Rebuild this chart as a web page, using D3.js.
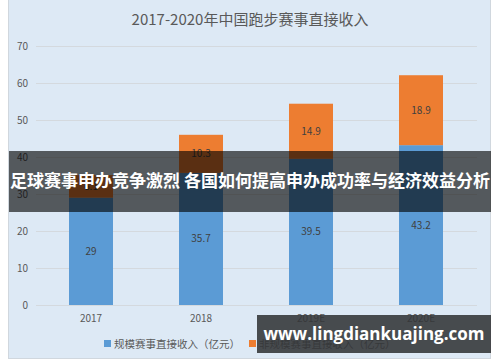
<!DOCTYPE html>
<html>
<head>
<meta charset="utf-8">
<script src="https://cdn.jsdelivr.net/npm/d3@7/dist/d3.min.js"></script>
<style>
  body { margin: 0; background: #fff; }
  svg { display: block; font-family: "Noto Sans CJK SC", "Noto Sans", sans-serif; }
</style>
</head>
<body>
<svg id="chart" width="500" height="362"></svg>
<script>
const years = ['2017', '2018', '2019E', '2020E'];
const scaleIncome = [29, 35.7, 39.5, 43.2];   // 规模赛事
const otherIncome = [6.1, 10.3, 14.9, 18.9];  // 非规模赛事
const yTicks = [0, 10, 20, 30, 40, 50, 60, 70];
const seriesNames = ['规模赛事直接收入（亿元）', '非规模赛事直接收入（亿元）'];
const seriesColors = ['#5b9bd5', '#ed7d31'];

const title = '2017-2020年中国跑步赛事直接收入';
const bannerText = '足球赛事申办竞争激烈 各国如何提高申办成功率与经济效益分析';
const siteText = 'www.lingdiankuajing.com';

var svg = d3.select('#chart');

// panel background
svg.append('rect')
  .attr('x', 8.5).attr('y', -1)
  .attr('width', 482).attr('height', 359.5)
  .attr('fill', '#dde9f5')
  .attr('stroke', '#d0d7de');

svg.append('text')
  .attr('x', 250).attr('y', 25)
  .attr('text-anchor', 'middle')
  .attr('font-size', 15)
  .attr('fill', '#595959')
  .text(title);

var x = d3.scaleBand().domain(years).range([36, 476]).paddingInner(0.6).paddingOuter(0.3);
var y = d3.scaleLinear().domain([0, 70]).range([305, 46]);

// grid + y labels
var grid = svg.append('g');
grid.selectAll('line')
  .data(yTicks)
  .enter()
  .append('line')
  .attr('x1', 36).attr('x2', 477)
  .attr('y1', d => Math.round(y(d)) + 0.5)
  .attr('y2', d => Math.round(y(d)) + 0.5)
  .attr('stroke', '#d4d9de');
grid.selectAll('text')
  .data(yTicks)
  .enter()
  .append('text')
  .attr('x', 28).attr('y', d => y(d))
  .attr('dy', '0.35em')
  .attr('text-anchor', 'end')
  .attr('font-size', 10)
  .attr('fill', '#595959')
  .text(d => d);

// x labels
svg.append('g').selectAll('text')
  .data(years)
  .enter()
  .append('text')
  .attr('x', d => x(d) + x.bandwidth() / 2)
  .attr('y', 322)
  .attr('text-anchor', 'middle')
  .attr('font-size', 10)
  .attr('fill', '#595959')
  .text(d => d);

// stacked bars
var stackData = years.map((yr, i) => ({ year: yr, a: scaleIncome[i], b: otherIncome[i] }));
var stack = d3.stack().keys(['a', 'b'])(stackData);

var layers = svg.append('g').selectAll('g')
  .data(stack)
  .enter()
  .append('g')
  .attr('fill', (d, i) => seriesColors[i]);

layers.selectAll('rect')
  .data(d => d)
  .enter()
  .append('rect')
  .attr('x', d => x(d.data.year))
  .attr('width', x.bandwidth())
  .attr('y', d => y(d[1]))
  .attr('height', d => y(d[0]) - y(d[1]));

layers.selectAll('text')
  .data(d => d)
  .enter()
  .append('text')
  .attr('x', d => x(d.data.year) + x.bandwidth() / 2)
  .attr('y', d => y((d[0] + d[1]) / 2))
  .attr('dy', '0.35em')
  .attr('text-anchor', 'middle')
  .attr('font-size', 10)
  .attr('fill', '#404040')
  .text(d => +(d[1] - d[0]).toFixed(1));

// legend
var legend = svg.append('g');
var legendX = [104, 249];
seriesNames.forEach(function (name, i) {
  legend.append('rect')
    .attr('x', legendX[i]).attr('y', 340)
    .attr('width', 7).attr('height', 7)
    .attr('fill', seriesColors[i]);
  legend.append('text')
    .attr('x', legendX[i] + 10).attr('y', 344)
    .attr('dy', '0.35em')
    .attr('font-size', 10.5)
    .attr('fill', '#595959')
    .text(name);
});

// overlay banner
svg.append('rect')
  .attr('x', 9).attr('y', 151)
  .attr('width', 482).attr('height', 61)
  .attr('fill', 'rgba(0,0,0,0.62)');
svg.append('text')
  .attr('x', 250).attr('y', 187)
  .attr('text-anchor', 'middle')
  .attr('font-size', 17)
  .attr('font-weight', 'bold')
  .attr('fill', '#fff')
  .text(bannerText);

// site watermark
svg.append('rect')
  .attr('x', 257).attr('y', 315)
  .attr('width', 234).attr('height', 38)
  .attr('fill', 'rgba(50,52,55,0.88)');
svg.append('text')
  .attr('x', 374).attr('y', 334)
  .attr('dy', '0.35em')
  .attr('text-anchor', 'middle')
  .attr('font-size', 17)
  .attr('font-weight', 'bold')
  .attr('font-family', '"Open Sans", "DejaVu Sans", sans-serif')
  .attr('fill', '#fff')
  .text(siteText);
</script>
</body>
</html>
